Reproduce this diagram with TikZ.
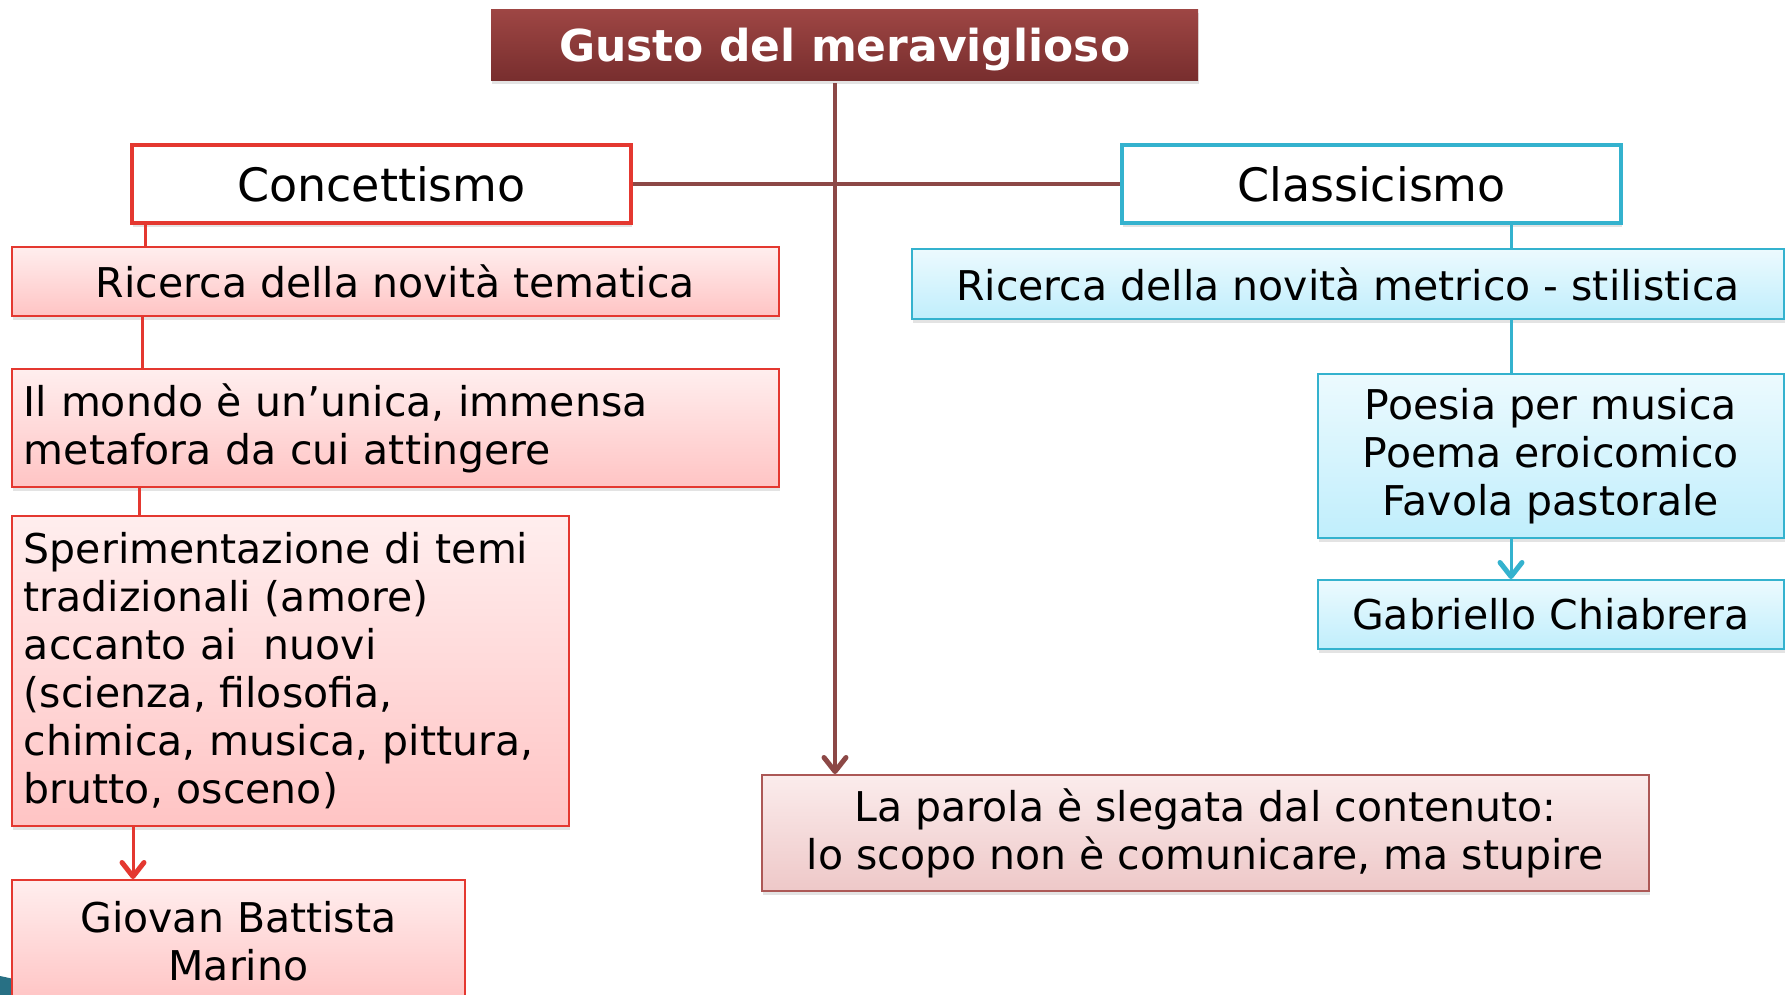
\documentclass[tikz,border=0pt]{standalone}
\usepackage{fontspec}
\setmainfont{DejaVu Sans}
\usetikzlibrary{arrows.meta,shadows}
\definecolor{titleTop}{RGB}{158,70,68}
\definecolor{titleBot}{RGB}{120,46,46}
\definecolor{brownLine}{RGB}{140,72,70}
\definecolor{redLine}{RGB}{228,56,48}
\definecolor{pinkTop}{RGB}{255,238,238}
\definecolor{pinkBot}{RGB}{255,196,196}
\definecolor{cyanLine}{RGB}{52,178,206}
\definecolor{cyanTop}{RGB}{236,250,254}
\definecolor{cyanBot}{RGB}{192,238,252}
\definecolor{roseTop}{RGB}{251,236,236}
\definecolor{roseBot}{RGB}{238,200,200}
\definecolor{roseLine}{RGB}{172,88,86}
\definecolor{tealDeco}{RGB}{40,112,132}
\begin{document}
\begin{tikzpicture}[x=1pt,y=-1pt,
  basebox/.style={rectangle, inner sep=0pt, anchor=north west, align=center,
    font=\fontsize{41}{48}\selectfont,
    drop shadow={opacity=0.22, shadow xshift=1pt, shadow yshift=-4pt}},
  titlebox/.style={basebox, top color=titleTop, bottom color=titleBot, draw=none,
    text=white, font=\fontsize{44}{52}\selectfont\bfseries,
    text height=40pt, text depth=6pt},
  headred/.style={basebox, draw=redLine, line width=4pt, fill=white, drop shadow={opacity=0},
    font=\fontsize{46}{54}\selectfont},
  headcyan/.style={basebox, draw=cyanLine, line width=4pt, fill=white, drop shadow={opacity=0},
    font=\fontsize{46}{54}\selectfont},
  pinkbox/.style={basebox, draw=redLine, line width=1.8pt, top color=pinkTop, bottom color=pinkBot},
  cyanbox/.style={basebox, draw=cyanLine, line width=1.8pt, top color=cyanTop, bottom color=cyanBot},
  rosebox/.style={basebox, draw=roseLine, line width=1.8pt, top color=roseTop, bottom color=roseBot},
  lefttext/.style={align=left, inner xsep=12pt},
  tip/.style={-{Straight Barb[length=14pt,width=22pt,line width=5pt,round]}},
  brownconn/.style={draw=brownLine, line width=3.5pt},
  redconn/.style={draw=redLine, line width=3pt},
  cyanconn/.style={draw=cyanLine, line width=3pt}
]
\useasboundingbox (0,0) rectangle (1792,995);
\fill[white] (0,0) rectangle (1792,995);
\fill[tealDeco] (0,976) -- (14,979) -- (14,995) -- (0,995) -- cycle;

% nodes
\node[titlebox, minimum width=707pt, minimum height=71pt] (title) at (491,9) {Gusto del meraviglioso};
\node[headred, minimum width=499pt, minimum height=78pt] (conc) at (130,143) {Concettismo};
\node[headcyan, minimum width=499pt, minimum height=78pt] (class) at (1120,143) {Classicismo};

\node[pinkbox, minimum width=767pt, minimum height=69pt] (ric) at (11,246) {Ricerca della novità tematica};
\node[pinkbox, lefttext, text width=743pt, minimum height=118pt] (mondo) at (11,368)
  {Il mondo è un’unica, immensa\\metafora da cui attingere};
\node[pinkbox, lefttext, text width=533pt, minimum height=310pt] (sper) at (11,515)
  {Sperimentazione di temi\\tradizionali (amore)\\accanto ai~ nuovi\\(scienza, filosofia,\\chimica, musica, pittura,\\brutto, osceno)};
\node[pinkbox, minimum width=453pt, minimum height=122pt] (marino) at (11,879)
  {Giovan Battista\\Marino};

\node[cyanbox, minimum width=872pt, minimum height=70pt] (metr) at (911,248)
  {Ricerca della novità metrico - stilistica};
\node[cyanbox, minimum width=466pt, minimum height=164pt] (poesia) at (1317,373)
  {Poesia per musica\\Poema eroicomico\\Favola pastorale};
\node[cyanbox, minimum width=466pt, minimum height=69pt] (chia) at (1317,579)
  {Gabriello Chiabrera};

\node[rosebox, minimum width=887pt, minimum height=116pt] (parola) at (761,774)
  {La parola è slegata dal contenuto:\\lo scopo non è comunicare, ma stupire};

% connector x positions
\coordinate (xb) at (835,0);
\coordinate (xr1) at (145,0);
\coordinate (xr2) at (142,0);
\coordinate (xr3) at (139,0);
\coordinate (xr4) at (133,0);
\coordinate (xc) at (1511,0);

% connectors
\draw[brownconn] (conc.east) -- (class.west);
\draw[brownconn, tip, shorten <=3pt] (title.south -| xb) -- (parola.north -| xb);

\draw[redconn] (conc.south -| xr1) -- (ric.north -| xr1);
\draw[redconn] (ric.south -| xr2) -- (mondo.north -| xr2);
\draw[redconn] (mondo.south -| xr3) -- (sper.north -| xr3);
\draw[redconn, tip] (sper.south -| xr4) -- (marino.north -| xr4);

\draw[cyanconn] (class.south -| xc) -- (metr.north -| xc);
\draw[cyanconn] (metr.south -| xc) -- (poesia.north -| xc);
\draw[cyanconn, tip] (poesia.south -| xc) -- (chia.north -| xc);
\end{tikzpicture}
\end{document}
